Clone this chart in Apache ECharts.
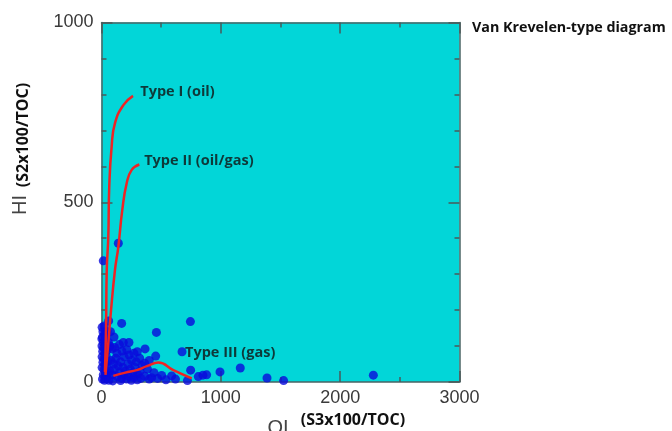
<!DOCTYPE html>
<html><head><meta charset="utf-8">
<script src="https://cdn.jsdelivr.net/npm/echarts@6/dist/echarts.min.js"></script>
<style>html,body{margin:0;padding:0;background:#fff}#c{width:672px;height:431px}</style>
</head><body><div id="c"></div>
<script>
// Samples: [OI, HI]
const samples = [
  [15,337],[141,386],[169,163],[460,138],[745,168],[183,110],[365,92],[454,72],[675,84],
  [747,33],[850,19],[993,28],[720,4],[811,15],[881,20],[1163,39],[1387,11],[1526,4],[2278,19],
  [588,17],[504,18],[420,12],
  [5,152],[12,140],[22,156],[8,125],[26,132],[15,110],[32,118],[4,100],[18,95],[38,102],
  [10,85],[28,80],[46,88],[5,70],[20,65],[40,72],[12,55],[30,50],[52,58],[5,40],[22,35],
  [42,42],[15,20],[35,24],[55,26],[8,8],[25,5],[45,12],[62,5],[3,120],[48,140],[58,110],
  [70,100],[90,92],[110,96],[130,80],[150,104],[172,86],[190,70],[212,90],[232,75],[252,60],
  [272,80],[292,56],[320,66],[340,46],[362,52],[385,36],[80,60],[100,50],[120,66],[140,45],
  [160,56],[180,40],[200,30],[222,50],[242,36],[262,26],[282,40],[302,22],[322,30],[70,30],
  [90,20],[110,36],[130,15],[150,26],[170,10],[190,20],[210,8],[230,15],[250,5],[270,12],
  [300,6],[330,10],[362,16],[400,8],[440,26],[470,10],[540,6],[620,8],[105,125],[75,140],
  [400,60],[300,84],[230,110],[60,170],[95,3],[160,4]
];
// Maturation curves
const typeI = [[29,28],[38,150],[44,312],[57,404],[65,543],[85,655],[113,720],[183,770],[264,796]];
const typeII = [[33,20],[55,100],[80,200],[113,312],[141,376],[174,478],[211,553],[253,590],[317,605]];
const typeIII = [[99,17],[200,26],[295,33],[380,44],[476,54],[602,33],[756,10]];
// Curve labels
const curveLabels = [
  {name:'Type I (oil)', value:[325,807]},
  {name:'Type II (oil/gas)', value:[358,615]},
  {name:'Type III (gas)', value:[700,82]}
];
const xTicks = [0,1000,2000,3000];
const yTicks = [0,500,1000];

const chart = echarts.init(document.getElementById('c'));
const axisLine = {show:true, onZero:false, lineStyle:{color:'#4a6464', width:1.5}};
const tick = {show:true, inside:true, length:11, lineStyle:{color:'#4a5a5a', width:1.5}};
const minor = {show:true, splitNumber:2, length:5, lineStyle:{color:'#4a5a5a', width:1.5}};
const lab = {color:'#3a3a3a', fontSize:18, fontFamily:'Liberation Sans, Arial, sans-serif'};
const labFont = '"Open Sans", Lato, sans-serif';
chart.setOption({
  animation:false,
  title:{text:'Van Krevelen-type diagram', left:472, top:21, padding:0,
    textStyle:{fontSize:14.3, fontWeight:'bold', color:'#111', fontFamily:labFont}},
  grid:{left:101.5, top:22.5, right:212.5, bottom:49, show:false},
  xAxis:[
    {type:'value', min:0, max:3000, interval:1000, axisLine, axisTick:tick, minorTick:minor,
     splitLine:{show:false}, axisLabel:Object.assign({margin:7, formatter:v=>xTicks.includes(v)?String(v):''}, lab)},
    {type:'value', position:'top', min:0, max:3000, interval:1000, axisLine, axisTick:tick, minorTick:minor,
     splitLine:{show:false}, axisLabel:{show:false}}
  ],
  yAxis:[
    {type:'value', min:0, max:1000, interval:500, axisLine, axisTick:tick,
     minorTick:Object.assign({}, minor, {splitNumber:5}),
     splitLine:{show:false}, axisLabel:Object.assign({margin:8, formatter:v=>yTicks.includes(v)?String(v):''}, lab)},
    {type:'value', position:'right', min:0, max:1000, interval:500, axisLine, axisTick:tick,
     minorTick:Object.assign({}, minor, {splitNumber:5}),
     splitLine:{show:false}, axisLabel:{show:false}}
  ],
  graphic:[
    {type:'rect', z:-100, shape:{x:101.5, y:22.5, width:358, height:359.5}, style:{fill:'#02d6d8'}},
    {type:'text', x:20, y:205, rotation:Math.PI/2, style:{text:'HI', font:'20px "Liberation Sans", Arial, sans-serif', fill:'#444', textAlign:'center', textVerticalAlign:'middle'}},
    {type:'text', x:23, y:135, rotation:Math.PI/2, style:{text:'(S2x100/TOC)', font:'bold 16px '+labFont, fill:'#111', textAlign:'center', textVerticalAlign:'middle'}},
    {type:'text', x:278, y:428, style:{text:'OI', font:'20px "Liberation Sans", Arial, sans-serif', fill:'#444', textAlign:'center', textVerticalAlign:'middle'}},
    {type:'text', x:353, y:420, style:{text:'(S3x100/TOC)', font:'bold 16px '+labFont, fill:'#111', textAlign:'center', textVerticalAlign:'middle'}}
  ],
  series:[
    {type:'scatter', data:samples, symbolSize:9, itemStyle:{color:'#0a0adc'}, z:2},
    {type:'line', data:typeI, smooth:true, showSymbol:false, lineStyle:{color:'#ee2424', width:2.5}, z:3},
    {type:'line', data:typeII, smooth:true, showSymbol:false, lineStyle:{color:'#ee2424', width:2.5}, z:3},
    {type:'line', data:typeIII, smooth:true, showSymbol:false, lineStyle:{color:'#ee2424', width:2.5}, z:3},
    {type:'scatter', data:curveLabels, symbolSize:0, z:4,
     label:{show:true, position:[0,0], align:'left', verticalAlign:'middle', formatter:p=>p.name,
       fontSize:14.5, fontWeight:'bold', color:'#111', fontFamily:labFont}}
  ]
});
</script></body></html>
